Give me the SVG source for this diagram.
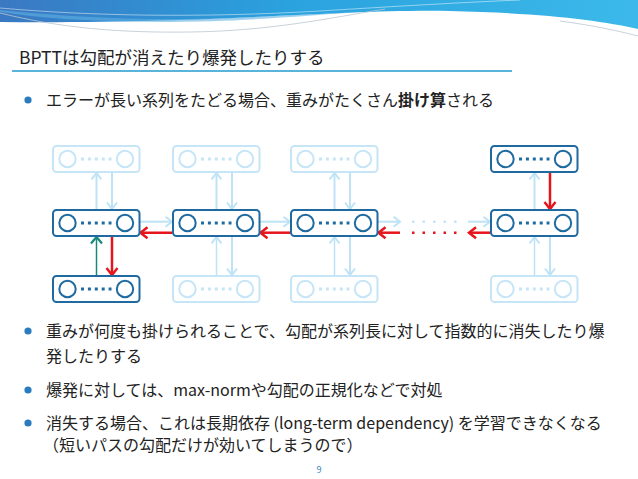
<svg xmlns="http://www.w3.org/2000/svg" xmlns:xlink="http://www.w3.org/1999/xlink" width="638" height="479" viewBox="0 0 638 479">
<style>
text{font-family:"Noto Sans CJK JP","Noto Sans",sans-serif;fill:#222}
.title{font-size:17.5px}
.body{font-size:16px}
.b{font-weight:bold}
.dark{stroke:#1e6aa1}
.light{stroke:#c6e6f7}
.la{stroke:#bfe3f6;stroke-width:2;fill:none;marker-end:url(#mL)}
.la.thin{stroke-width:1.5}
.ra{stroke:#e5151b;stroke-width:2.5;fill:none;marker-end:url(#mR)}
.ga{stroke:#17897a;stroke-width:1.5;fill:none;marker-end:url(#mG)}
.ldots{stroke:#c6e6f7;stroke-width:2.5;stroke-dasharray:2.5 8}
.rdots{stroke:#e5151b;stroke-width:2.5;stroke-dasharray:2.5 8}
.bullet{fill:#2a7cc0}
</style>
<defs>
<linearGradient id="hg" x1="0" y1="0" x2="1" y2="0">
<stop offset="0" stop-color="#3a78c2"/>
<stop offset="0.45" stop-color="#2aa2de"/>
<stop offset="1" stop-color="#3cb9ea"/>
</linearGradient>
<marker id="mL" markerUnits="userSpaceOnUse" markerWidth="16" markerHeight="16" viewBox="-10 -8 12 16" refX="0" refY="0" orient="auto">
<path d="M-6.5,-5 L0,0 L-6.5,5" fill="none" stroke="#bfe3f6" stroke-width="2"/>
</marker>
<marker id="mR" markerUnits="userSpaceOnUse" markerWidth="16" markerHeight="16" viewBox="-10 -8 12 16" refX="0" refY="0" orient="auto">
<path d="M-7,-5.5 L0,0 L-7,5.5" fill="none" stroke="#e5151b" stroke-width="2.5"/>
</marker>
<marker id="mG" markerUnits="userSpaceOnUse" markerWidth="16" markerHeight="16" viewBox="-10 -8 12 16" refX="0" refY="0" orient="auto">
<path d="M-6.5,-5.5 L0,0 L-6.5,5.5" fill="none" stroke="#17897a" stroke-width="2.2"/>
</marker>
<g id="nodeT">
<rect x="0" y="0" width="86.5" height="26" rx="3.5" fill="#fff" stroke-width="2"/>
<circle cx="14.5" cy="13" r="8.2" fill="#fff" stroke-width="2"/>
<circle cx="72" cy="13" r="8.2" fill="#fff" stroke-width="2"/>
<line x1="28" y1="13" x2="58.5" y2="13" stroke-width="3" stroke-dasharray="3 3.9"/>
</g>
</defs>

<g id="header">
<path d="M0,0 H638 V29 C600,20 540,13 450,11 C340,9 220,24 0,22 Z" fill="url(#hg)"/>
<path d="M0,12 C40,18 80,21 160,22 C240,22 300,16 360,12 C300,14 220,20 150,19 C90,18 40,14 0,10 Z" fill="#5fb0e2" opacity="0.6"/>
<path d="M0,8 C90,16 200,18 320,11 C400,6 470,2 520,0" fill="none" stroke="#ffffff" stroke-width="0.8" opacity="0.6"/>
<path d="M0,13 C60,28 120,33 190,32 C270,31 330,18 385,9" fill="none" stroke="#b9c6d2" stroke-width="0.8"/>
<path d="M560,21 C590,25 615,30 638,36" fill="none" stroke="#b9c6d2" stroke-width="0.8"/>
</g>

<g id="title">
<text class="title" x="19" y="64">BPTTは勾配が消えたり爆発したりする</text>
<line x1="12" y1="71" x2="512" y2="71" stroke="#5ab4da" stroke-width="2"/>
</g>

<g id="bullet1">
<circle class="bullet" cx="28" cy="100" r="3.6"/>
<text class="body" x="46" y="106">エラーが長い系列をたどる場合、重みがたくさん<tspan class="b">掛け算</tspan>される</text>
</g>

<g id="connectors">
<line class="la" x1="96.5" y1="210" x2="96.5" y2="173"/>
<line class="la" x1="112" y1="172" x2="112" y2="209"/>
<line class="ga" x1="96.5" y1="276" x2="96.5" y2="237"/>
<line class="ra" x1="112" y1="236" x2="112" y2="275"/>
<line class="la" x1="216.5" y1="210" x2="216.5" y2="173"/>
<line class="la" x1="232" y1="172" x2="232" y2="209"/>
<line class="la thin" x1="216.5" y1="276" x2="216.5" y2="237"/>
<line class="la" x1="232" y1="236" x2="232" y2="275"/>
<line class="la" x1="334.5" y1="210" x2="334.5" y2="173"/>
<line class="la" x1="350" y1="172" x2="350" y2="209"/>
<line class="la thin" x1="334.5" y1="276" x2="334.5" y2="237"/>
<line class="la" x1="350" y1="236" x2="350" y2="275"/>
<line class="la" x1="534.5" y1="210" x2="534.5" y2="173"/>
<line class="ra" x1="550" y1="172" x2="550" y2="209"/>
<line class="la thin" x1="534.5" y1="276" x2="534.5" y2="237"/>
<line class="la" x1="550" y1="236" x2="550" y2="275"/>
<line class="la" x1="140" y1="221.7" x2="172" y2="221.7"/>
<line class="la" x1="260" y1="221.7" x2="290" y2="221.7"/>
<line class="la" x1="378" y1="221.7" x2="400" y2="221.7"/>
<line class="la" x1="468" y1="221.7" x2="490" y2="221.7"/>
<line class="ldots" x1="412" y1="221.7" x2="460" y2="221.7"/>
<line class="ra" x1="172.5" y1="232.7" x2="140.5" y2="232.7"/>
<line class="ra" x1="291" y1="232.7" x2="260.5" y2="232.7"/>
<line class="ra" x1="400" y1="232.7" x2="378.5" y2="232.7"/>
<line class="ra" x1="491" y1="232.7" x2="469" y2="232.7"/>
<line class="rdots" x1="412" y1="232.7" x2="460" y2="232.7"/>
</g>

<g id="n-top1" class="light"><use xlink:href="#nodeT" x="53" y="146"/></g>
<g id="n-top2" class="light"><use xlink:href="#nodeT" x="173" y="146"/></g>
<g id="n-top3" class="light"><use xlink:href="#nodeT" x="291" y="146"/></g>
<g id="n-top5" class="dark"><use xlink:href="#nodeT" x="491" y="146"/></g>
<g id="n-mid1" class="dark"><use xlink:href="#nodeT" x="53" y="210"/></g>
<g id="n-mid2" class="dark"><use xlink:href="#nodeT" x="173" y="210"/></g>
<g id="n-mid3" class="dark"><use xlink:href="#nodeT" x="291" y="210"/></g>
<g id="n-mid5" class="dark"><use xlink:href="#nodeT" x="491" y="210"/></g>
<g id="n-bot1" class="dark"><use xlink:href="#nodeT" x="53" y="276"/></g>
<g id="n-bot2" class="light"><use xlink:href="#nodeT" x="173" y="276"/></g>
<g id="n-bot3" class="light"><use xlink:href="#nodeT" x="291" y="276"/></g>
<g id="n-bot5" class="light"><use xlink:href="#nodeT" x="491" y="276"/></g>

<g id="bullet2">
<circle class="bullet" cx="28" cy="331" r="3.6"/>
<text class="body" x="46" y="337">重みが何度も掛けられることで、勾配が系列長に対して指数的に消失したり爆</text>
<text class="body" x="46" y="362">発したりする</text>
</g>
<g id="bullet3">
<circle class="bullet" cx="28" cy="390" r="3.6"/>
<text class="body" x="46" y="396">爆発に対しては、max-normや勾配の正規化などで対処</text>
</g>
<g id="bullet4">
<circle class="bullet" cx="28" cy="423" r="3.6"/>
<text class="body" x="46" y="429">消失する場合、これは長期依存 (long-term dependency) を学習できなくなる</text>
<text class="body" x="43" y="451">（短いパスの勾配だけが効いてしまうので）</text>
</g>
<text x="319" y="473" font-size="9" style="fill:#3a86c0" text-anchor="middle">9</text>
</svg>
